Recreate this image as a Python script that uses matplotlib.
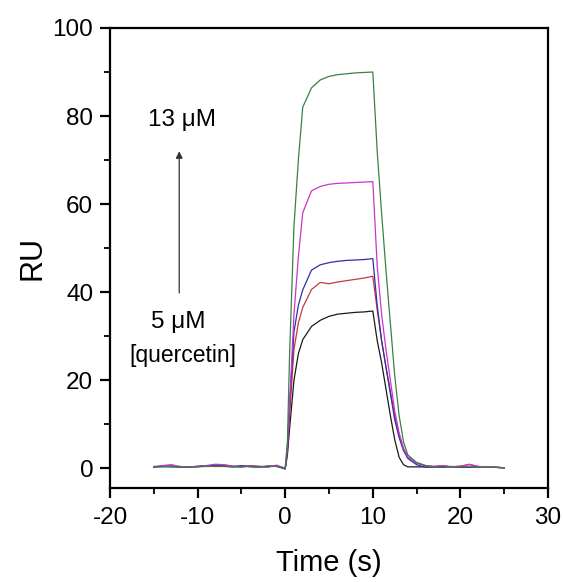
import matplotlib
matplotlib.use("Agg")
import matplotlib.pyplot as plt
from matplotlib.ticker import MultipleLocator

plt.rcParams['font.family'] = ['Liberation Sans', 'DejaVu Sans']
plt.rcParams['axes.unicode_minus'] = False

# time points (s)
time = [-15, -14, -13, -12, -11, -10, -9, -8, -7, -6, -5, -4, -3, -2, -1,
        0, 0.25, 0.5, 1, 1.5, 2, 3, 4, 5, 6, 7, 8, 9, 10,
        10.5, 11, 11.5, 12, 12.5, 13, 13.5, 14, 15, 16, 17, 18, 19, 20,
        21, 22, 23, 24, 25]

ru_5uM = [0.3, 0.4, 0.3, 0.3, 0.3, 0.4, 0.5, 0.4, 0.4, 0.3, 0.4, 0.5, 0.4, 0.4, 0.5,
          -0.2, 3, 9, 20, 26, 29.2, 32.2, 33.6, 34.5, 35.0, 35.2, 35.4, 35.5, 35.7,
          29, 24, 18, 12, 6.5, 2.5, 0.8, 0.3, 0.3, 0.3, 0.3, 0.3, 0.3, 0.2,
          0.2, 0.2, 0.2, 0.2, 0.1]
ru_red = [0.3, 0.5, 0.4, 0.3, 0.3, 0.4, 0.6, 0.5, 0.5, 0.4, 0.3, 0.6, 0.4, 0.3, 0.6,
          -0.1, 4, 12, 27, 33, 36.5, 40.6, 42.2, 41.9, 42.3, 42.6, 42.9, 43.2, 43.6,
          36, 29, 23, 17.5, 12, 7.5, 4.5, 2.5, 1.2, 0.6, 0.4, 0.6, 0.3, 0.5,
          0.8, 0.4, 0.3, 0.2, 0.1]
ru_blue = [0.3, 0.4, 0.5, 0.3, 0.3, 0.4, 0.5, 0.6, 0.7, 0.4, 0.6, 0.3, 0.2, 0.5, 0.4,
           -0.1, 4, 14, 31, 37, 40.5, 45.0, 46.2, 46.7, 47.0, 47.2, 47.3, 47.4, 47.6,
           37, 29, 23, 17, 11, 7, 4, 2.2, 0.8, 0.2, 0.3, 0.2, 0.4, 0.3,
           0.2, 0.3, 0.2, 0.2, 0.1]
ru_magenta = [0.4, 0.6, 0.8, 0.4, 0.3, 0.3, 0.6, 0.9, 0.8, 0.5, 0.2, 0.5, 0.3, 0.2, 0.7,
              0.0, 5, 15, 35, 48, 58, 63.0, 64.0, 64.5, 64.7, 64.8, 64.9, 65.0, 65.1,
              46, 35, 27, 20, 13, 8, 4.5, 2.5, 1.2, 0.5, 0.4, 0.6, 0.3, 0.4,
              0.9, 0.4, 0.3, 0.2, 0.1]
ru_green = [0.3, 0.3, 0.4, 0.3, 0.3, 0.3, 0.4, 0.4, 0.5, 0.3, 0.4, 0.4, 0.3, 0.4, 0.4,
            0.0, 6, 26, 55, 70, 82, 86.4, 88.2, 89.0, 89.4, 89.6, 89.8, 89.9, 90.0,
            72, 58, 45, 33, 21, 12, 6, 3, 1.3, 0.6, 0.3, 0.3, 0.3, 0.3,
            0.3, 0.2, 0.2, 0.2, 0.1]

series = [ru_5uM, ru_red, ru_blue, ru_magenta, ru_green]
colors = ['#1a1a1a', '#c43a3a', '#2f2fa8', '#cc33cc', '#3a8045']

fig = plt.figure(figsize=(5.63, 5.82), dpi=100)
ax = fig.add_axes([0.1954, 0.1615, 0.778, 0.7904])

for vals, c in zip(series, colors):
    ax.plot(time, vals, color=c, lw=0.9)

ax.set_xlim(-20, 30)
ax.set_ylim(-4.5, 100)
ax.xaxis.set_major_locator(MultipleLocator(10))
ax.xaxis.set_minor_locator(MultipleLocator(5))
ax.yaxis.set_major_locator(MultipleLocator(20))
ax.yaxis.set_minor_locator(MultipleLocator(10))
for s in ax.spines.values():
    s.set_linewidth(1.6)
ax.tick_params(which='major', direction='out', length=7, width=1.6, labelsize=17.5)
ax.tick_params(axis='x', which='major', pad=7)
ax.tick_params(axis='y', which='major', pad=5)
ax.tick_params(which='minor', direction='out', length=4, width=1.3)
ax.set_xlabel('Time (s)', fontsize=21, labelpad=14)
ax.set_ylabel('RU', fontsize=22, labelpad=4)

ax.annotate('', xy=(-12.1, 72), xytext=(-12.1, 39.8),
            arrowprops=dict(arrowstyle='-|>', color='#333333', lw=0.9,
                            mutation_scale=10, shrinkA=0, shrinkB=0))
ax.text(-11.8, 79.2, '13 \u03bcM', fontsize=17.5, ha='center', va='center')
ax.text(-12.2, 33.3, '5 \u03bcM', fontsize=17.5, ha='center', va='center')
ax.text(-11.7, 25.5, '[quercetin]', fontsize=16.5, ha='center', va='center')

fig.savefig('out.png', dpi=100)
